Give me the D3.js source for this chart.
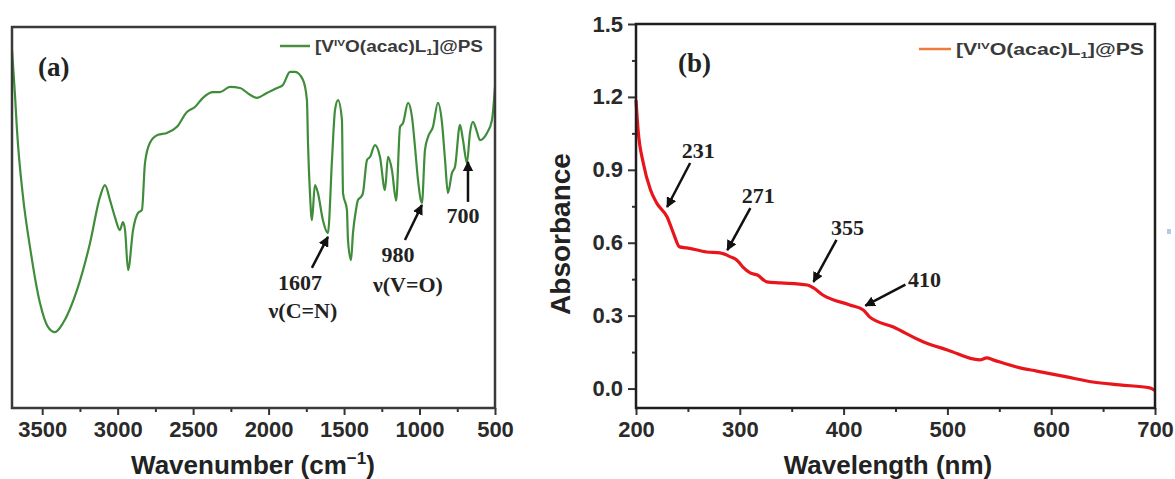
<!DOCTYPE html>
<html>
<head>
<meta charset="utf-8">
<script src="https://cdn.jsdelivr.net/npm/d3@7"></script>
<style>
  html, body { margin: 0; padding: 0; background: #fff; }
  svg { display: block; }
  text { font-family: "Liberation Sans", Arial, sans-serif; }
</style>
</head>
<body>
<svg id="chart" width="1175" height="479"></svg>
<script>
// ---------------- DATA ----------------
// (a) FT-IR spectrum: wavenumber (cm-1) and transmittance (a.u., 0-100)
const irWavenumber = [3700,3680,3667,3627,3581,3515,3462,3415,3362,3269,3183,3117,3084,3051,3018,2985,2965,2951,2931,2898,2865,2839,2819,2786,2733,2673,2607,2541,2488,2435,2368,2322,2256,2190,2123,2077,2011,1944,1905,1858,1825,1772,1746,1739,1726,1713,1693,1673,1640,1607,1580,1560,1540,1514,1507,1481,1474,1454,1441,1421,1408,1388,1375,1348,1328,1295,1262,1229,1209,1183,1155,1129,1109,1076,1050,1030,1010,984,964,944,911,878,851,831,812,785,765,732,712,686,666,646,619,600,553,520,500];
const irTransmittance = [94,82,73,55.4,42.3,27.6,21.3,19.9,22.3,31,43.3,55.4,58.5,54.6,50.1,46.7,48.8,46.7,36.2,46.7,51.2,52,64.3,69.6,71.7,72.2,73.8,77.7,79,81.4,82.9,82.9,84.3,84,82.2,81.4,82.7,84,84.8,88.2,88.2,86.1,80.8,69.6,56.4,49.3,58.5,56.4,49.3,45.9,65.1,78.2,80.8,75.6,56.4,52,44.1,38.8,45.9,52,54.6,55.4,56.4,65.1,65.9,69,65.9,57.2,65.9,62.5,54.4,73.8,74.8,80.1,76.4,68.5,59.8,53.8,67.7,71.1,73.8,80.1,74.8,65.1,56.4,61.7,63.3,74.3,70.3,64.3,72.2,75.1,72.4,70.3,72.2,75.6,84.3];
const irTicks = [3500,3000,2500,2000,1500,1000,500];
const irMinorTicks = [3250,2750,2250,1750,1250,750];

// (b) UV-Vis spectrum: wavelength (nm) and absorbance
const uvWavelength = [200,202,207,214,220,230,236,242,249,268,281,291,297,303,310,317,326,339,365,371,380,406,419,425,448,477,500,531,538,544,570,586,615,640,666,695,700];
const uvAbsorbance = [1.187,1.064,0.928,0.817,0.763,0.706,0.640,0.583,0.579,0.562,0.558,0.542,0.529,0.500,0.476,0.467,0.439,0.435,0.426,0.414,0.385,0.344,0.323,0.295,0.253,0.192,0.159,0.118,0.126,0.118,0.085,0.072,0.048,0.027,0.015,0.003,-0.008];
const uvXTicks = [200,300,400,500,600,700];
const uvXMinorTicks = [250,350,450,550,650];
const uvYTicks = [0.0,0.3,0.6,0.9,1.2,1.5];
const uvYMinorTicks = [0.15,0.45,0.75,1.05,1.35];

// annotations (head in data coordinates)
const irPeakLabels = ["1607","980","700"];
const irPeakWn = [1607,984,679];
const irPeakT = [44.9,53.3,64.6];
const irPeakModes = ["ν(C=N)","ν(V=O)",""];
const uvPeakLabels = ["231","271","355","410"];
const uvPeakWl = [230,288,371,421];
const uvPeakA = [0.747,0.570,0.439,0.341];

// ---------------- LAYOUT ----------------
const svg = d3.select("#chart");
const A = {left: 12, right: 495, top: 27, bottom: 408};
const B = {left: 636, right: 1155, top: 24, bottom: 408};

const defs = svg.append("defs");
defs.append("marker").attr("id","ah").attr("viewBox","0 0 10 10")
  .attr("refX",9).attr("refY",5).attr("markerWidth",4.2).attr("markerHeight",4.2)
  .attr("markerUnits","strokeWidth").attr("orient","auto")
  .append("path").attr("d","M0,0 L10,5 L0,10 Z").attr("fill","#111");

function styleAxis(g, fs) {
  g.select(".domain").remove();
  g.selectAll(".tick line").attr("stroke","#333").attr("stroke-width",2);
  g.selectAll(".tick text").attr("fill","#2a2a2a")
    .style("font-family","'Liberation Sans', Arial, sans-serif")
    .style("font-weight","bold").style("font-size", fs + "px");
}

function legend(x, y, color, lineLen, fs, width) {
  const g = svg.append("g");
  g.append("line").attr("x1",x).attr("x2",x+lineLen).attr("y1",y).attr("y2",y)
    .attr("stroke",color).attr("stroke-width",2.5);
  const t = g.append("text").attr("x", x + lineLen + 5).attr("y", y + 6)
    .attr("fill","#3a3a3a").style("font-size", fs + "px").style("font-weight","bold")
    .attr("textLength", width).attr("lengthAdjust","spacingAndGlyphs");
  t.append("tspan").text("[V");
  t.append("tspan").attr("dy",-6).style("font-size",(fs*0.62)+"px").text("IV");
  t.append("tspan").attr("dy",6).text("O(acac)L");
  t.append("tspan").attr("dy",3).style("font-size",(fs*0.62)+"px").text("1");
  t.append("tspan").attr("dy",-3).text("]@PS");
}

// ---------------- PANEL (a) ----------------
const xA = d3.scaleLinear().domain([3700, 500]).range([A.left, A.right]);
const yA = d3.scaleLinear().domain([0, 100]).range([A.bottom, A.top]);

const gAx = svg.append("g").attr("transform",`translate(0,${A.bottom})`)
  .call(d3.axisBottom(xA).tickValues(irTicks).tickFormat(d3.format("d")).tickSize(7).tickPadding(6));
styleAxis(gAx, 22);
svg.append("g").attr("transform",`translate(0,${A.bottom})`)
  .call(d3.axisBottom(xA).tickValues(irMinorTicks).tickFormat("").tickSize(4))
  .call(g => { g.select(".domain").remove(); g.selectAll("line").attr("stroke","#333").attr("stroke-width",2); });

const irData = irWavenumber.map((w,i) => [w, irTransmittance[i]]);
svg.append("path").datum(irData)
  .attr("fill","none").attr("stroke","#3f8c3a").attr("stroke-width",2.2)
  .attr("stroke-linejoin","round")
  .attr("d", d3.line().x(d => xA(d[0])).y(d => yA(d[1])).curve(d3.curveMonotoneX));

svg.append("rect").attr("x",A.left).attr("y",A.top)
  .attr("width",A.right-A.left).attr("height",A.bottom-A.top)
  .attr("fill","none").attr("stroke","#3a3a3a").attr("stroke-width",2.5);

svg.append("text").attr("x",38).attr("y",76)
  .style("font-family","'Liberation Serif', 'Times New Roman', serif")
  .style("font-weight","bold").style("font-size","27px").attr("fill","#222").text("(a)");

legend(280, 46, "#4a8f40", 30, 16, 168);

const tA = svg.append("text").attr("x", 253).attr("y", 474).attr("text-anchor","middle")
  .attr("fill","#222").style("font-weight","bold").style("font-size","26px");
tA.append("tspan").text("Wavenumber (cm");
tA.append("tspan").attr("dy",-10).style("font-size","17px").text("−1");
tA.append("tspan").attr("dy",10).text(")");

// IR annotations
const irTail = [[-16,31],[-17,35],[0,40]];
const irLbl = [[-28,53],[-24,57],[-5,61]];
const irMode = [[-25,81],[-14,87],[0,0]];
irPeakLabels.forEach((lab,i) => {
  const hx = xA(irPeakWn[i]), hy = yA(irPeakT[i]);
  svg.append("line").attr("x1",hx+irTail[i][0]).attr("y1",hy+irTail[i][1])
    .attr("x2",hx).attr("y2",hy).attr("stroke","#111").attr("stroke-width",2.5)
    .attr("marker-end","url(#ah)");
  svg.append("text").attr("x",hx+irLbl[i][0]).attr("y",hy+irLbl[i][1]).attr("text-anchor","middle")
    .style("font-family","'Liberation Serif', 'Times New Roman', serif")
    .style("font-weight","bold").style("font-size","22px").attr("fill","#222").text(lab);
  if (irPeakModes[i]) {
    svg.append("text").attr("x",hx+irMode[i][0]).attr("y",hy+irMode[i][1]).attr("text-anchor","middle")
      .style("font-family","'Liberation Serif', 'Times New Roman', serif")
      .style("font-weight","bold").style("font-size","22px").attr("fill","#222").text(irPeakModes[i]);
  }
});

// ---------------- PANEL (b) ----------------
const xB = d3.scaleLinear().domain([200, 700]).range([B.left, B.right]);
const yB = d3.scaleLinear().domain([-0.08, 1.5]).range([B.bottom, B.top]);

const gBx = svg.append("g").attr("transform",`translate(0,${B.bottom})`)
  .call(d3.axisBottom(xB).tickValues(uvXTicks).tickFormat(d3.format("d")).tickSize(7).tickPadding(6));
styleAxis(gBx, 22);
svg.append("g").attr("transform",`translate(0,${B.bottom})`)
  .call(d3.axisBottom(xB).tickValues(uvXMinorTicks).tickFormat("").tickSize(4))
  .call(g => { g.select(".domain").remove(); g.selectAll("line").attr("stroke","#333").attr("stroke-width",2); });

const gBy = svg.append("g").attr("transform",`translate(${B.left},0)`)
  .call(d3.axisLeft(yB).tickValues(uvYTicks).tickFormat(d3.format(".1f")).tickSize(8).tickPadding(5));
styleAxis(gBy, 22);
svg.append("g").attr("transform",`translate(${B.left},0)`)
  .call(d3.axisLeft(yB).tickValues(uvYMinorTicks).tickFormat("").tickSize(4))
  .call(g => { g.select(".domain").remove(); g.selectAll("line").attr("stroke","#333").attr("stroke-width",2); });

const uvData = uvWavelength.map((w,i) => [w, uvAbsorbance[i]]);
svg.append("path").datum(uvData)
  .attr("fill","none").attr("stroke","#e8161c").attr("stroke-width",3.2)
  .attr("stroke-linejoin","round")
  .attr("d", d3.line().x(d => xB(d[0])).y(d => yB(d[1])).curve(d3.curveMonotoneX));

svg.append("rect").attr("x",B.left).attr("y",B.top)
  .attr("width",B.right-B.left).attr("height",B.bottom-B.top)
  .attr("fill","none").attr("stroke","#1e1e1e").attr("stroke-width",2.5);

svg.append("text").attr("x",678).attr("y",72)
  .style("font-family","'Liberation Serif', 'Times New Roman', serif")
  .style("font-weight","bold").style("font-size","27px").attr("fill","#222").text("(b)");

legend(919, 49, "#f07a3a", 32, 16, 188);

svg.append("text").attr("x", 888).attr("y", 474).attr("text-anchor","middle")
  .attr("fill","#222").style("font-weight","bold").style("font-size","26px").text("Wavelength (nm)");

svg.append("text").attr("transform","translate(570,234) rotate(-90)").attr("text-anchor","middle")
  .attr("fill","#222").style("font-weight","bold").style("font-size","28px").text("Absorbance");

// UV annotations
const uvTail = [[23,-44],[23,-42],[23,-42],[40,-21]];
const uvLbl = [[31,-49],[31,-47],[34,-47],[59,-19]];
uvPeakLabels.forEach((lab,i) => {
  const hx = xB(uvPeakWl[i]), hy = yB(uvPeakA[i]);
  svg.append("line").attr("x1",hx+uvTail[i][0]).attr("y1",hy+uvTail[i][1])
    .attr("x2",hx).attr("y2",hy).attr("stroke","#111").attr("stroke-width",2.5)
    .attr("marker-end","url(#ah)");
  svg.append("text").attr("x",hx+uvLbl[i][0]).attr("y",hy+uvLbl[i][1]).attr("text-anchor","middle")
    .style("font-family","'Liberation Serif', 'Times New Roman', serif")
    .style("font-weight","bold").style("font-size","22px").attr("fill","#222").text(lab);
});

// small stray mark at right edge of the original figure
svg.append("rect").attr("x",1167).attr("y",229).attr("width",4).attr("height",5).attr("fill","#b8c8e8");
</script>
</body>
</html>
